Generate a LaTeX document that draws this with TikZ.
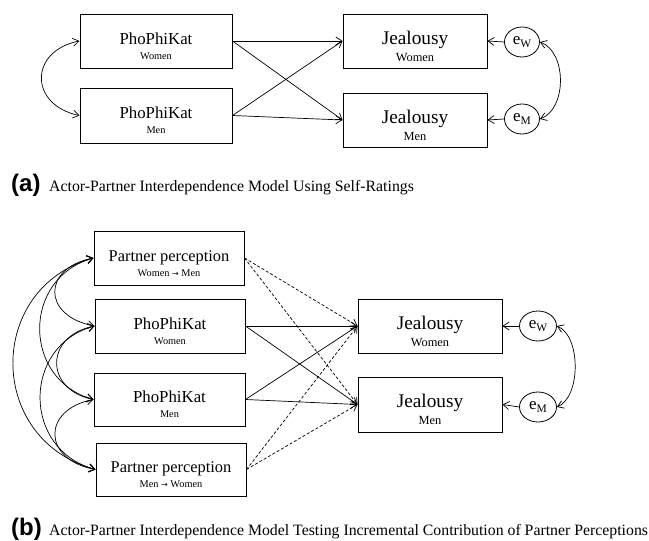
\documentclass[tikz,border=0pt]{standalone}
\usepackage{fontspec}
\setmainfont{Liberation Serif}
\newfontfamily\capsans{Liberation Sans}
\newfontfamily\arrowfont{DejaVu Sans}
\usetikzlibrary{arrows.meta,shapes.geometric,calc}
\newcommand{\fsz}[1]{\fontsize{#1}{#1}\selectfont}
\newcommand{\errlab}[1]{e\raisebox{-3pt}{\fsz{11.5}#1}}
\newcommand{\smarrow}{{\arrowfont\fsz{8}\char"2192}}
\begin{document}
\begin{tikzpicture}[x=1pt,y=-1pt,
  box/.style={draw, line width=1pt, inner sep=0pt},
  lbl/.style={anchor=base, inner sep=0pt},
  tip/.tip={Straight Barb[length=6pt,width=8pt]},
  arr/.style={line width=0.7pt, -tip},
  darr/.style={arr, dash pattern=on 3pt off 2pt},
  carr/.style={line width=0.7pt, tip-tip},
  err/.style={draw, ellipse, line width=0.8pt, inner sep=0pt, minimum width=35pt, minimum height=30pt, font=\fsz{17}}
]
\useasboundingbox (0,0) rectangle (649,541);

% ---------- panel a ----------
\node[box, minimum width=152pt, minimum height=54pt] (pwa) at (156,41) {};
\node[box, minimum width=152pt, minimum height=55pt] (pma) at (156,115.5) {};
\node[box, minimum width=144pt, minimum height=54pt] (jwa) at (415,41) {};
\node[box, minimum width=144pt, minimum height=54pt] (jma) at (415,120) {};
\node[err] (ewa) at (522,42) {\errlab{W}};
\node[err] (ema) at (522,119) {\errlab{M}};

\node[lbl, font=\fsz{16.8}] (pwat) at ($(pwa.center)+(0,3)$) {PhoPhiKat};
\node[lbl, font=\fsz{10.3}] (pwas) at ($(pwa.center)+(0,18)$) {Women};
\node[lbl, font=\fsz{16.8}] (pmat) at ($(pma.center)+(0,3)$) {PhoPhiKat};
\node[lbl, font=\fsz{10.3}] (pmas) at ($(pma.center)+(0,18)$) {Men};
\node[lbl, font=\fsz{19.3}] (jwat) at ($(jwa.center)+(0,3)$) {Jealousy};
\node[lbl, font=\fsz{12.4}] (jwas) at ($(jwa.center)+(0,20)$) {Women};
\node[lbl, font=\fsz{19.3}] (jmat) at ($(jma.center)+(0,3)$) {Jealousy};
\node[lbl, font=\fsz{12.4}] (jmas) at ($(jma.center)+(0,20)$) {Men};

\draw[arr] (pwa.east) -- (jwa.west);
\draw[arr] (pwa.east) -- (jma.west);
\draw[arr] (pma.east) -- (jwa.west);
\draw[arr] (pma.east) -- (jma.west);
\draw[arr] (ewa.west) -- (jwa.east);
\draw[arr] (ema.west) -- (jma.east);
\draw[carr] (pwa.west) .. controls (29,51) and (29,105) .. (pma.west);
\draw[carr] (ewa.east) .. controls (567,52) and (567,109) .. (ema.east);

\node[anchor=base west, inner sep=0pt, font=\capsans\bfseries\fsz{24}] (capa) at (11,191) {(a)};
\node[anchor=base west, inner sep=0pt, font=\fsz{15.8}] (capat) at (49,191) {Actor-Partner Interdependence Model Using Self-Ratings};

% ---------- panel b ----------
\node[box, minimum width=150pt, minimum height=54pt] (ppa) at (169,258) {};
\node[box, minimum width=150pt, minimum height=54pt] (pwb) at (170,326) {};
\node[box, minimum width=151pt, minimum height=53pt] (pmb) at (169.5,399.5) {};
\node[box, minimum width=150pt, minimum height=53pt] (ppb) at (171,469.5) {};
\node[box, minimum width=144pt, minimum height=54pt] (jwb) at (430,326) {};
\node[box, minimum width=144pt, minimum height=55pt] (jmb) at (430,404.5) {};
\node[err, minimum width=37pt] (ewb) at (538,326) {\errlab{W}};
\node[err, minimum width=37pt] (emb) at (538,407) {\errlab{M}};

\node[lbl, font=\fsz{16.4}] (ppat) at ($(ppa.center)+(0,3)$) {Partner perception};
\node[lbl, font=\fsz{10.3}] (ppas) at ($(ppa.center)+(0,18)$) {Women \smarrow{} Men};
\node[lbl, font=\fsz{16.8}] (pwbt) at ($(pwb.center)+(0,3)$) {PhoPhiKat};
\node[lbl, font=\fsz{10.3}] (pwbs) at ($(pwb.center)+(0,18)$) {Women};
\node[lbl, font=\fsz{16.8}] (pmbt) at ($(pmb.center)+(0,3)$) {PhoPhiKat};
\node[lbl, font=\fsz{10.3}] (pmbs) at ($(pmb.center)+(0,18)$) {Men};
\node[lbl, font=\fsz{16.4}] (ppbt) at ($(ppb.center)+(0,3)$) {Partner perception};
\node[lbl, font=\fsz{10.3}] (ppbs) at ($(ppb.center)+(0,18)$) {Men \smarrow{} Women};
\node[lbl, font=\fsz{19.3}] (jwbt) at ($(jwb.center)+(0,3)$) {Jealousy};
\node[lbl, font=\fsz{12.4}] (jwbs) at ($(jwb.center)+(0,20)$) {Women};
\node[lbl, font=\fsz{19.3}] (jmbt) at ($(jmb.center)+(0,3)$) {Jealousy};
\node[lbl, font=\fsz{12.4}] (jmbs) at ($(jmb.center)+(0,20)$) {Men};

\draw[arr] (pwb.east) -- (jwb.west);
\draw[arr] (pwb.east) -- (jmb.west);
\draw[arr] (pmb.east) -- (jwb.west);
\draw[arr] (pmb.east) -- (jmb.west);
\draw[darr] (ppa.east) -- (jwb.west);
\draw[darr] (ppa.east) -- (jmb.west);
\draw[darr] (ppb.east) -- (jwb.west);
\draw[darr] (ppb.east) -- (jmb.west);
\draw[arr] (ewb.west) -- (jwb.east);
\draw[arr] (emb.west) -- (jmb.east);

\draw[carr] (ppa.west) .. controls (42,268) and (42,316) .. (pwb.west);
\draw[carr] (pwb.west) .. controls (44.5,336) and (44.5,389.5) .. (pmb.west);
\draw[carr] (pmb.west) .. controls (42,409.5) and (42,459.5) .. (ppb.west);
\draw[carr] (ppa.west) .. controls (22,278) and (22,379.5) .. (pmb.west);
\draw[carr] (pwb.west) .. controls (22,346) and (22,449.5) .. (ppb.west);
\draw[carr] (ppa.west) .. controls (-14,288) and (-14,439.5) .. (ppb.west);
\draw[carr] (ewb.east) .. controls (581,336) and (581,397) .. (emb.east);

\node[anchor=base west, inner sep=0pt, font=\capsans\bfseries\fsz{24}] (capb) at (11,535) {(b)};
\node[anchor=base west, inner sep=0pt, font=\fsz{15.8}] (capbt) at (49,535) {Actor-Partner Interdependence Model Testing Incremental Contribution of Partner Perceptions};
\end{tikzpicture}
\end{document}
